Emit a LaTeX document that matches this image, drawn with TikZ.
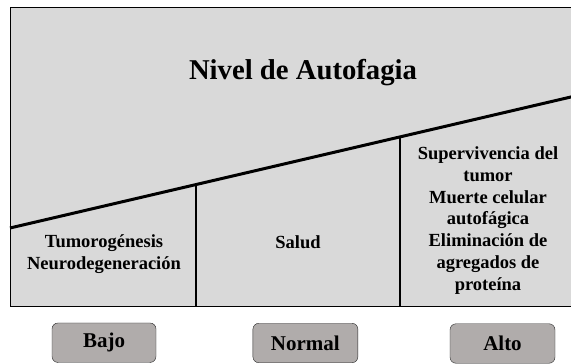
\documentclass[tikz,border=0pt]{standalone}
\usepackage{fontspec}
\setmainfont{Liberation Serif}
\definecolor{panelgray}{RGB}{217,217,217}
\definecolor{levelgray}{RGB}{176,172,171}
\begin{document}
\begin{tikzpicture}[x=1pt,y=-1pt,
	coltext/.style={font=\bfseries\fontsize{18.5}{21.7}\selectfont, align=center, inner sep=0pt},
	levelbox/.style={draw=black!85, fill=levelgray, rounded corners=6pt, minimum width=104pt, minimum height=39.5pt, inner sep=0pt, font=\bfseries\fontsize{21}{24}\selectfont}]
	
	\useasboundingbox (0,0) rectangle (571,364);
	
	% panel, cut at the right edge
	\filldraw [draw=black, fill=panelgray, line width=1pt] (10,7.5) rectangle (585,306);
	\draw [line width=3pt] (10,228) -- (585,93.7);
	\draw [line width=2.6pt] (196,184.4) -- (196,306);
	\draw [line width=2.6pt] (400,136.9) -- (400,306);
	
	\node [font=\bfseries\fontsize{28.7}{32}\selectfont, inner sep=0pt] (titulo) at (303,73) {Nivel de Autofagia};
	
	\node [coltext] (bajotxt) at (104,254) {Tumorogénesis\\Neurodegeneración};
	\node [coltext] (normaltxt) at (298,242) {Salud};
	\node [coltext] (altotxt) at (488,220.5) {Supervivencia del\\tumor\\Muerte celular\\autofágica\\Eliminación de\\agregados de\\proteína};
	
	%levels
	\node [levelbox] (bajo) at (104,342.7) {Bajo};
	\node [levelbox, minimum width=105pt] (normal) at (305.4,343) {Normal};
	\node [levelbox, minimum width=105pt] (alto) at (502.5,343.5) {Alto};
\end{tikzpicture}
\end{document}
